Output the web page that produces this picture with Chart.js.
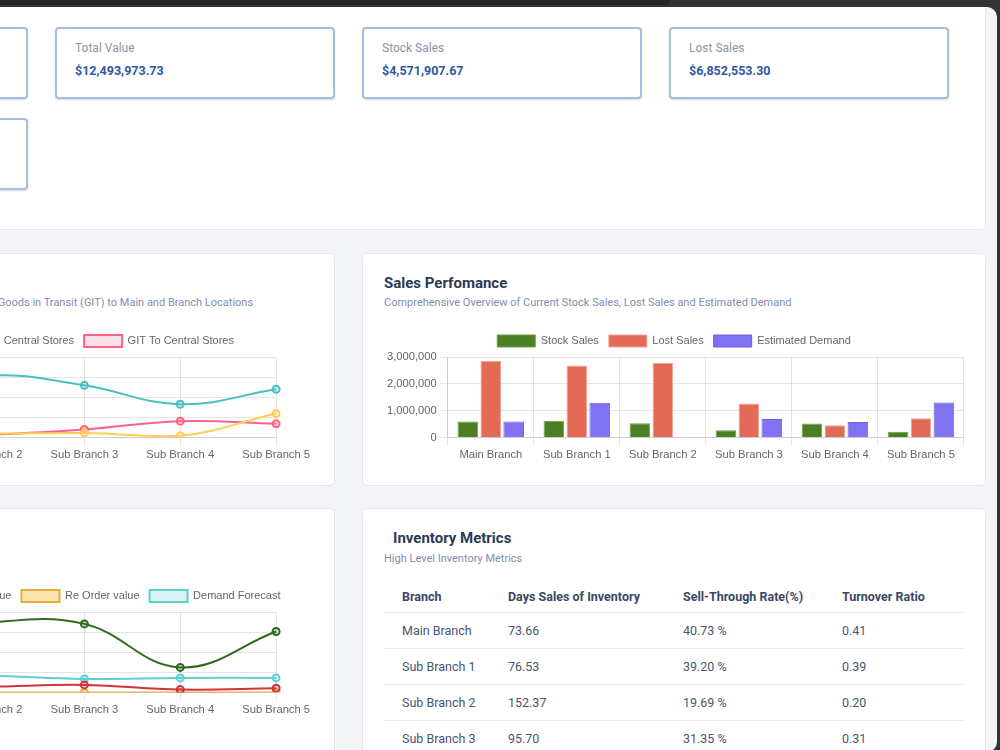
<!DOCTYPE html>
<html>
<head>
<meta charset="utf-8">
<script src="https://cdn.jsdelivr.net/npm/chart.js@4.4.1/dist/chart.umd.min.js"></script>
<style>
  html,body{margin:0;padding:0;}
  body{width:1000px;height:750px;overflow:hidden;background:#333333;position:relative;font-family:Roboto,"Noto Sans",sans-serif;}
  #tab{position:absolute;left:0;top:0;width:670px;height:5px;background:#262626;border-bottom-right-radius:5px;}
  #win{position:absolute;left:-20px;top:7px;width:1017px;height:745px;background:#f3f4f8;border-radius:10px;overflow:hidden;}
  #inner{position:absolute;left:20px;top:-7px;width:1000px;height:760px;}
  .card{position:absolute;background:#fff;border:1px solid #e3e6ee;border-radius:5px;box-sizing:border-box;}
  .kpi{position:absolute;width:280px;height:72px;border:2px solid #a7bcde;border-radius:4px;box-sizing:border-box;background:#fff;box-shadow:0 1px 2px rgba(80,110,170,0.25);}
  .kpi .t{position:absolute;left:18px;top:12px;font-size:12px;color:#8b95a8;font-weight:400;}
  .kpi .v{position:absolute;left:18px;top:34px;font-size:12.5px;color:#2d5aa3;font-weight:700;}
  .title{position:absolute;font-size:15px;font-weight:700;color:#2c3a55;line-height:20px;white-space:nowrap;}
  .sub{position:absolute;font-size:11px;color:#7f8db0;line-height:14px;white-space:nowrap;}
  .cw{position:absolute;width:580px;height:140px;}
  table{position:absolute;border-collapse:collapse;font-size:12.5px;color:#4a5570;table-layout:fixed;}
  th{font-weight:700;color:#3b4864;text-align:left;height:31px;padding:0 0 0 18px;border-bottom:1.5px solid #e6e8ee;}
  td{height:35px;padding:0 0 0 18px;border-bottom:1.5px solid #e6e8ee;}
</style>
</head>
<body>
<div id="tab"></div>
<div id="win"><div id="inner">
  <div class="card" style="left:-300px;top:-20px;width:1286px;height:250px;"></div>
  <div class="kpi" style="left:-252px;top:27px;"><div class="t">Total Items</div><div class="v">0</div></div>
  <div class="kpi" style="left:55px;top:27px;"><div class="t" id="k1t"></div><div class="v" id="k1v"></div></div>
  <div class="kpi" style="left:362px;top:27px;"><div class="t" id="k2t"></div><div class="v" id="k2v"></div></div>
  <div class="kpi" style="left:669px;top:27px;"><div class="t" id="k3t"></div><div class="v" id="k3v"></div></div>
  <div class="kpi" style="left:-252px;top:118px;"><div class="t">Estimated Demand</div><div class="v">0</div></div>

  <div class="card" style="left:-289px;top:253px;width:624px;height:233px;"></div>
  <div class="title" style="left:-267px;top:273px;">GIT Overview</div>
  <div class="sub" style="left:-252px;top:296px;">Comprehensive Overview of Current Distribution of Goods in Transit (GIT) to Main and Branch Locations</div>
  <div class="cw" style="left:-267px;top:325px;"><canvas id="git"></canvas></div>

  <div class="card" style="left:362px;top:253px;width:624px;height:233px;"></div>
  <div class="title" style="left:384px;top:273px;">Sales Perfomance</div>
  <div class="sub" style="left:384px;top:296px;">Comprehensive Overview of Current Stock Sales, Lost Sales and Estimated Demand</div>
  <div class="cw" style="left:384px;top:325px;"><canvas id="sales"></canvas></div>

  <div class="card" style="left:-289px;top:508px;width:624px;height:300px;"></div>
  <div class="title" style="left:-258px;top:528px;">Stock Levels</div>
  <div class="sub" style="left:-267px;top:552px;">Inventory Valuation</div>
  <div class="cw" style="left:-267px;top:580px;"><canvas id="inv"></canvas></div>

  <div class="card" style="left:362px;top:508px;width:624px;height:300px;"></div>
  <div class="title" style="left:393px;top:528px;">Inventory Metrics</div>
  <div class="sub" style="left:384px;top:552px;">High Level Inventory Metrics</div>
  <table id="tbl" style="left:384px;top:581px;width:579px;"></table>
</div></div>

<script>
// ---- data ----
const branches = ['Main Branch','Sub Branch 1','Sub Branch 2','Sub Branch 3','Sub Branch 4','Sub Branch 5'];

const kpiTitles = ['Total Value','Stock Sales','Lost Sales'];
const kpiValues = ['$12,493,973.73','$4,571,907.67','$6,852,553.30'];

const stockSales      = [600000, 630000, 530000, 270000, 520000, 220000];
const lostSales       = [2850000, 2680000, 2780000, 1270000, 455000, 720000];
const estimatedDemand = [600000, 1300000, 0, 690000, 580000, 1310000];
const salesTicks = [0, 1000000, 2000000, 3000000];

const gitTotal       = [150000, 120000, 99000, 111000, 44000, 598000];
const gitFromCentral = [900000, 1050000, 1540000, 1296000, 827000, 1200000];
const gitToCentral   = [60000, 70000, 74000, 202000, 407000, 341000];

const stockValue     = [3000000, 2600000, 3460000, 3410000, 1250000, 3030000];
const safetyStock    = [350000, 300000, 296000, 380000, 148000, 212000];
const reorderValue   = [10000, 8000, 6000, 5000, 3000, 5000];
const demandForecast = [900000, 850000, 840000, 677000, 726000, 726000];

const tableHeaders = ['Branch','Days Sales of Inventory','Sell-Through Rate(%)','Turnover Ratio'];
const daysSales    = ['73.66','76.53','152.37','95.70'];
const sellThrough  = ['40.73 %','39.20 %','19.69 %','31.35 %'];
const turnover     = ['0.41','0.39','0.20','0.31'];

// ---- KPI + table ----
['k1','k2','k3'].forEach((k,i)=>{document.getElementById(k+'t').textContent=kpiTitles[i];document.getElementById(k+'v').textContent=kpiValues[i];});
const tbl = document.getElementById('tbl');
let html = '<tr>'+tableHeaders.map((h,i)=>'<th style="width:'+[88,157,141,121][i]+'px">'+h+'</th>').join('')+'</tr>';
daysSales.forEach((d,i)=>{html += '<tr><td>'+branches[i]+'</td><td>'+d+'</td><td>'+sellThrough[i]+'</td><td>'+turnover[i]+'</td></tr>';});
tbl.innerHTML = html;

// ---- charts ----
Chart.defaults.font.family = "'Liberation Sans', Arial, Helvetica, sans-serif";
Chart.defaults.font.size = 11.2;
Chart.defaults.color = '#666';
Chart.defaults.animation = false;

const fmt = v => v.toLocaleString('en-US');
const legendOpts = {labels:{boxWidth:38, boxHeight:12, font:{size:11}}};

new Chart(document.getElementById('sales'), {
  type:'bar',
  data:{labels:branches, datasets:[
    {label:'Stock Sales', data:stockSales, backgroundColor:'#4b7f24', borderColor:'#68a340', borderWidth:1},
    {label:'Lost Sales', data:lostSales, backgroundColor:'#e36a57', borderColor:'#f3a497', borderWidth:1},
    {label:'Estimated Demand', data:estimatedDemand, backgroundColor:'#8072f0', borderColor:'#6a5de6', borderWidth:1}
  ]},
  options:{responsive:true, maintainAspectRatio:false,
    plugins:{legend:legendOpts, tooltip:{enabled:false}},
    scales:{y:{min:0,max:3000000, afterBuildTicks:a=>{a.ticks=salesTicks.map(v=>({value:v}));}, ticks:{callback:v=>fmt(v)}}}
  }
});

function lineDs(label, data, color, fill){
  return {label, data, borderColor:color, backgroundColor:fill, pointBackgroundColor:fill, pointBorderColor:color,
          borderWidth:2, pointRadius:3.5, pointBorderWidth:2, tension:0.4, fill:false};
}

new Chart(document.getElementById('git'), {
  type:'line',
  data:{labels:branches, datasets:[
    lineDs('Total GIT', gitTotal, 'rgb(255,205,86)', 'rgba(255,205,86,0.2)'),
    lineDs('GIT From Central Stores', gitFromCentral, 'rgb(75,192,192)', 'rgba(75,192,192,0.2)'),
    lineDs('GIT To Central Stores', gitToCentral, 'rgb(255,99,132)', 'rgba(255,99,132,0.2)')
  ]},
  options:{responsive:true, maintainAspectRatio:false,
    plugins:{legend:legendOpts, tooltip:{enabled:false}},
    scales:{y:{min:0,max:2000000,ticks:{stepSize:500000, callback:v=>fmt(v)}}}
  }
});

new Chart(document.getElementById('inv'), {
  type:'line',
  data:{labels:branches, datasets:[
    lineDs('Stock Value', stockValue, '#2f6b1f', 'rgba(47,107,31,0.2)'),
    lineDs('Safety Stock value', safetyStock, '#d2323f', 'rgba(210,50,63,0.2)'),
    lineDs('Re Order value', reorderValue, '#e9a93b', 'rgba(249,214,120,0.6)'),
    lineDs('Demand Forecast', demandForecast, '#5fcfd2', 'rgba(95,207,210,0.25)')
  ]},
  options:{responsive:true, maintainAspectRatio:false,
    plugins:{legend:legendOpts, tooltip:{enabled:false}},
    scales:{y:{min:0,max:4000000,ticks:{stepSize:1000000, callback:v=>fmt(v)}}}
  }
});
</script>
</body>
</html>
